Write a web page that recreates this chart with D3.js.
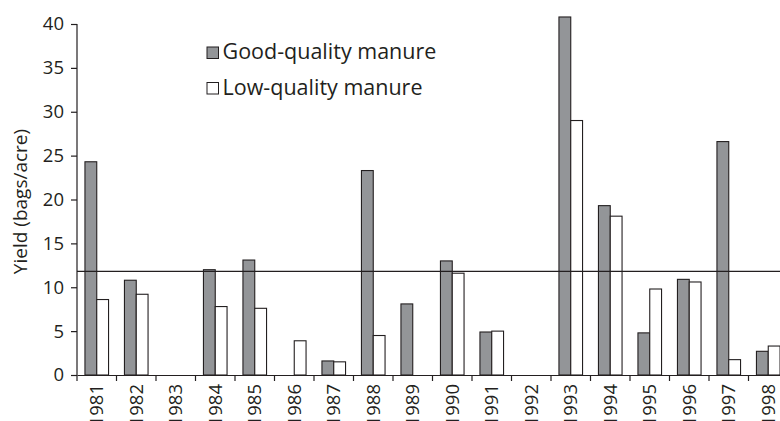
<!DOCTYPE html>
<html>
<head>
<meta charset="utf-8">
<script src="https://cdn.jsdelivr.net/npm/d3@7"></script>
<style>
  body { margin: 0; background: #fff; }
  text { font-family: "Open Sans", sans-serif; fill: #231f20; }
</style>
</head>
<body>
<div id="chart"></div>
<script>
// data
const years = ["1981","1982","1983","1984","1985","1986","1987","1988","1989",
               "1990","1991","1992","1993","1994","1995","1996","1997","1998"];
const goodManure = [24.3, 10.8, 0, 12.0, 13.1, 0, 1.6, 23.3, 8.1,
                    13.0, 4.9, 0, 40.8, 19.3, 4.8, 10.9, 26.6, 2.7];
const lowManure  = [8.6, 9.2, 0, 7.8, 7.6, 3.9, 1.5, 4.5, 0,
                    11.6, 5.0, 0, 29.0, 18.1, 9.8, 10.6, 1.75, 3.3];
const yTicks = [0, 5, 10, 15, 20, 25, 30, 35, 40];
const refLine = 11.8;
const seriesNames = ["Good-quality manure", "Low-quality manure"];

const W = 780, H = 421;
const margin = {top: 24, left: 77, bottom: 46};
const ink = "#231f20";
const colors = ["#939598", "#ffffff"];

const svg = d3.select("#chart").append("svg")
    .attr("width", W).attr("height", H);

const x = d3.scaleBand()
    .domain(years)
    .range([margin.left, margin.left + 39.5 * years.length]);

const x1 = d3.scaleBand()
    .domain([0, 1])
    .range([0, 23.6]);

const y = d3.scaleLinear()
    .domain([0, 40])
    .range([H - margin.bottom, margin.top]);

const rows = years.map((yr, i) => ({year: yr, vals: [goodManure[i], lowManure[i]]}));

// bars
const groups = svg.append("g").selectAll("g")
    .data(rows).enter().append("g")
    .attr("transform", d => `translate(${x(d.year) + (x.bandwidth() - 23.6) / 2},0)`);

groups.selectAll("rect")
    .data(d => d.vals.map((v, k) => ({k: k, v: v})).filter(e => e.v > 0))
    .enter().append("rect")
    .attr("x", e => x1(e.k))
    .attr("y", e => y(e.v))
    .attr("width", x1.bandwidth())
    .attr("height", e => y(0) - y(e.v))
    .attr("fill", e => colors[e.k])
    .attr("stroke", ink)
    .attr("stroke-width", 1.1);

// reference line
svg.append("line")
    .attr("x1", margin.left).attr("x2", W)
    .attr("y1", y(refLine)).attr("y2", y(refLine))
    .attr("stroke", ink).attr("stroke-width", 1.2);

// y axis
const yAxis = d3.axisLeft(y).tickValues(yTicks).tickSize(6).tickPadding(7);
const gy = svg.append("g")
    .attr("transform", `translate(${margin.left},0)`)
    .call(yAxis);
gy.select(".domain").attr("stroke", ink).attr("stroke-width", 1.2).attr("d", `M0,${y(40)}V${y(0)}`);
gy.selectAll(".tick line").attr("stroke", ink).attr("stroke-width", 1.2);
gy.selectAll(".tick text").attr("font-size", 18.5).attr("font-family", "Open Sans").attr("fill", ink);

// x axis
const xAxis = d3.axisBottom(x).tickSize(0).tickPadding(8);
const gx = svg.append("g")
    .attr("transform", `translate(0,${y(0)})`)
    .call(xAxis);
gx.select(".domain").attr("stroke", ink).attr("stroke-width", 1.2);
gx.selectAll(".tick text")
    .attr("font-size", 18.5).attr("font-family", "Open Sans").attr("fill", ink)
    .attr("transform", "rotate(-90)")
    .attr("text-anchor", "end")
    .attr("x", -9).attr("y", 0).attr("dy", "0.35em");

// category separators
svg.append("g").selectAll("line")
    .data(years).enter().append("line")
    .attr("x1", d => x(d)).attr("x2", d => x(d))
    .attr("y1", y(0)).attr("y2", y(0) + 6)
    .attr("stroke", ink).attr("stroke-width", 1.2);

// y label
svg.append("text")
    .attr("transform", `translate(27,${(y(0) + y(40)) / 2 + 2}) rotate(-90)`)
    .attr("text-anchor", "middle")
    .attr("font-size", 19)
    .text("Yield (bags/acre)");

// legend
const legend = svg.append("g").attr("transform", "translate(207,47)");
seriesNames.forEach((name, i) => {
    legend.append("rect")
        .attr("x", 0).attr("y", i * 35.5)
        .attr("width", 11.5).attr("height", 11.5)
        .attr("fill", colors[i]).attr("stroke", ink).attr("stroke-width", 1);
    legend.append("text")
        .attr("x", 15.5).attr("y", i * 35.5 + 12)
        .attr("font-size", 21.5)
        .text(name);
});
</script>
</body>
</html>
